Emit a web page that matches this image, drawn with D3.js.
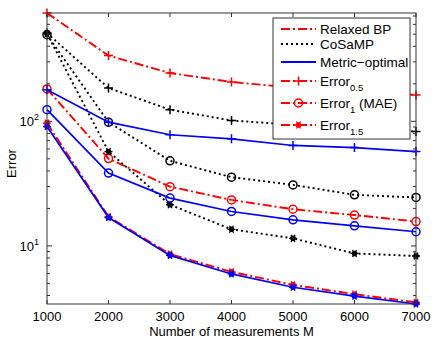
<!DOCTYPE html>
<html>
<head>
<meta charset="utf-8">
<script src="https://cdn.jsdelivr.net/npm/d3@7"></script>
<style>
  body { margin: 0; background: #fff; }
  text { font-family: "Liberation Sans", Arial, sans-serif; fill: #000; }
</style>
</head>
<body>
<div id="chart-area"></div>
<script>
// measurements M
const measurements = [1000, 2000, 3000, 4000, 5000, 6000, 7000];

// Relaxed BP
const relaxedErr05 = [740, 337, 244, 207, 186, 174, 163];
const relaxedErr1  = [182, 50.2, 29.9, 23.4, 19.7, 17.7, 15.7];
const relaxedErr15 = [96.7, 17.2, 8.6, 6.2, 4.87, 4.1, 3.53];

// CoSaMP
const cosampErr05 = [511, 185, 124, 101.5, 94, 88, 82.8];
const cosampErr1  = [495, 98.5, 48.2, 35.6, 30.9, 25.7, 24.5];
const cosampErr15 = [505, 57.2, 21.4, 13.6, 11.5, 8.7, 8.3];

// Metric-optimal
const metricErr05 = [179, 98.5, 78, 72.4, 64, 61.6, 57.2];
const metricErr1  = [124, 38.4, 24.2, 18.9, 16.2, 14.5, 13.0];
const metricErr15 = [90.8, 16.9, 8.4, 5.96, 4.66, 3.96, 3.42];

const xTicks = [1000, 2000, 3000, 4000, 5000, 6000, 7000];
const yMajor = [10, 100];

const width = 436;
const height = 342;
const margin = {left: 47, right: 20, top: 13, bottom: 38};
const w = width - margin.left - margin.right;
const h = height - margin.top - margin.bottom;

const methods = [
  {name: "Relaxed BP", color: "#ff0000", dash: "9,3,2,3", sw: 1.9,
   series: [relaxedErr05, relaxedErr1, relaxedErr15]},
  {name: "CoSaMP", color: "#000000", dash: "2,3", sw: 1.9,
   series: [cosampErr05, cosampErr1, cosampErr15]},
  {name: "Metric\u2212optimal", color: "#0000ff", dash: null, sw: 1.7,
   series: [metricErr05, metricErr1, metricErr15]}
];
const markerKinds = ["plus", "circle", "star"];

const svg = d3.select("#chart-area")
  .append("svg")
  .attr("width", width)
  .attr("height", height);

svg.append("rect")
  .attr("width", width)
  .attr("height", height)
  .attr("fill", "#fff");

const g = svg.append("g")
  .attr("transform", "translate(" + margin.left + "," + margin.top + ")");

const x = d3.scaleLinear()
  .domain(d3.extent(measurements))
  .range([0, w]);

const allVals = methods.flatMap(m => m.series.flat());
const y = d3.scaleLog()
  .domain(d3.extent(allVals))
  .range([h, 0]);

svg.append("defs").append("clipPath").attr("id", "clip")
  .append("rect").attr("x", -6).attr("y", -6).attr("width", w + 12).attr("height", h + 12);

const line = d3.line()
  .x((d, i) => x(measurements[i]))
  .y(d => y(d));

function drawMarker(sel, kind, color) {
  if (kind === "plus") {
    sel.append("path")
      .attr("d", "M-4.5,0H4.5M0,-4.5V4.5")
      .attr("stroke", color).attr("stroke-width", 1.5).attr("fill", "none");
  } else if (kind === "circle") {
    sel.append("circle")
      .attr("r", 4)
      .attr("stroke", color).attr("stroke-width", 1.5).attr("fill", "none");
  } else {
    sel.append("circle").attr("r", 2.8).attr("fill", color);
    sel.append("path")
      .attr("d", "M-4,0H4M-2,-3.5L2,3.5M2,-3.5L-2,3.5")
      .attr("stroke", color).attr("stroke-width", 1.3).attr("fill", "none");
  }
}

const plot = g.append("g").attr("clip-path", "url(#clip)");

methods.forEach(m => {
  m.series.forEach((vals, k) => {
    plot.append("path")
      .datum(vals)
      .attr("d", line)
      .attr("fill", "none")
      .attr("stroke", m.color)
      .attr("stroke-width", m.sw)
      .attr("stroke-dasharray", m.dash);
    vals.forEach((v, i) => {
      const mk = plot.append("g")
        .attr("transform", "translate(" + x(measurements[i]) + "," + y(v) + ")");
      drawMarker(mk, markerKinds[k], m.color);
    });
  });
});

// axes box
const axisColor = "#333";
g.append("rect")
  .attr("width", w).attr("height", h)
  .attr("fill", "none").attr("stroke", axisColor).attr("stroke-width", 1);

// x ticks (inward, top and bottom)
xTicks.forEach(t => {
  const px = x(t);
  g.append("line").attr("x1", px).attr("x2", px).attr("y1", h).attr("y2", h - 4)
    .attr("stroke", axisColor);
  g.append("line").attr("x1", px).attr("x2", px).attr("y1", 0).attr("y2", 4)
    .attr("stroke", axisColor);
  g.append("text")
    .attr("x", px).attr("y", h + 17)
    .attr("text-anchor", "middle")
    .attr("font-size", "13px")
    .text(t);
});

// y ticks (log, major and minor)
const [y0, y1] = y.domain();
const minorTicks = [];
for (let e = -1; e <= 3; e++) {
  for (let k = 1; k <= 9; k++) {
    const v = k * Math.pow(10, e);
    if (v >= y0 && v <= y1) minorTicks.push(v);
  }
}
minorTicks.forEach(v => {
  const py = y(v);
  const len = yMajor.includes(v) ? 5 : 3;
  g.append("line").attr("x1", 0).attr("x2", len).attr("y1", py).attr("y2", py)
    .attr("stroke", axisColor);
  g.append("line").attr("x1", w).attr("x2", w - len).attr("y1", py).attr("y2", py)
    .attr("stroke", axisColor);
});

yMajor.forEach(v => {
  const t = g.append("text")
    .attr("x", -8).attr("y", y(v) + 5)
    .attr("text-anchor", "end")
    .attr("font-size", "13px");
  t.append("tspan").text("10");
  t.append("tspan").attr("dy", -6).attr("font-size", "9px").text(Math.round(Math.log10(v)));
});

// axis labels
g.append("text")
  .attr("x", w / 2)
  .attr("y", h + 32)
  .attr("text-anchor", "middle")
  .attr("font-size", "13px")
  .text("Number of measurements M");

g.append("text")
  .attr("transform", "rotate(-90)")
  .attr("x", -(h / 2 + 5))
  .attr("y", -31)
  .attr("text-anchor", "middle")
  .attr("font-size", "13px")
  .text("Error");

// legend
const lg = svg.append("g").attr("transform", "translate(273,18)");
lg.append("rect")
  .attr("width", 137).attr("height", 121)
  .attr("fill", "#fff").attr("stroke", axisColor).attr("stroke-width", 1);

const legendRows = [
  {label: "Relaxed BP", sub: null, extra: "", color: "#ff0000", dash: "9,3,2,3", marker: null, yy: 11},
  {label: "CoSaMP", sub: null, extra: "", color: "#000000", dash: "2,3", marker: null, yy: 26},
  {label: "Metric\u2212optimal", sub: null, extra: "", color: "#0000ff", dash: null, marker: null, yy: 44},
  {label: "Error", sub: "0.5", extra: "", color: "#ff0000", dash: "9,3,2,3", marker: "plus", yy: 63},
  {label: "Error", sub: "1", extra: " (MAE)", color: "#ff0000", dash: "9,3,2,3", marker: "circle", yy: 85},
  {label: "Error", sub: "1.5", extra: "", color: "#ff0000", dash: "9,3,2,3", marker: "star", yy: 107}
];

legendRows.forEach(r => {
  lg.append("line")
    .attr("x1", 8).attr("x2", 43).attr("y1", r.yy).attr("y2", r.yy)
    .attr("stroke", r.color).attr("stroke-width", 1.8)
    .attr("stroke-dasharray", r.dash);
  if (r.marker) {
    const mk = lg.append("g").attr("transform", "translate(25.5," + r.yy + ")");
    drawMarker(mk, r.marker, r.color);
  }
  const t = lg.append("text")
    .attr("x", 47).attr("y", r.yy + 4.5)
    .attr("font-size", "13.5px");
  t.append("tspan").text(r.label);
  if (r.sub) {
    t.append("tspan").attr("dy", 5).attr("font-size", "9.5px").text(r.sub);
    t.append("tspan").attr("dy", -5).text(r.extra);
  }
});
</script>
</body>
</html>
